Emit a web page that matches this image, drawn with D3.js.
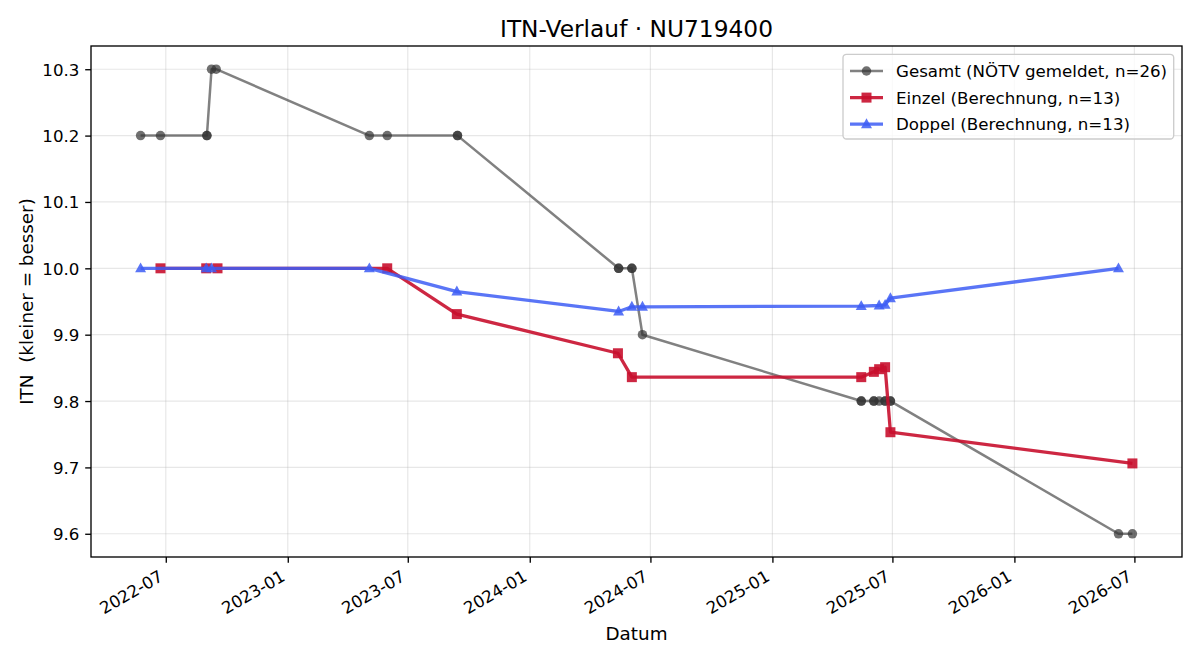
<!DOCTYPE html>
<html><head><meta charset="utf-8">
<script src="https://cdn.jsdelivr.net/npm/d3@7"></script>
<style>
body{margin:0;background:#fff}
text{font-family:"DejaVu Sans",sans-serif;fill:#000}
</style>
</head><body>
<svg id="chart" width="1200" height="660"></svg>
<script>
// ---- data ----
const titleText = "ITN-Verlauf · NU719400";
const xLabelText = "Datum";
const yLabelText = "ITN  (kleiner = besser)";

const gesamtDates = ["2022-05-24","2022-06-23","2022-09-01","2022-09-01","2022-09-08","2022-09-15",
  "2023-05-04","2023-05-31","2023-09-14","2023-09-14","2024-05-14","2024-05-14","2024-06-03","2024-06-03",
  "2024-06-19","2025-05-15","2025-05-15","2025-06-03","2025-06-03","2025-06-11","2025-06-20","2025-06-20",
  "2025-06-28","2025-06-28","2026-06-07","2026-06-28"];
const gesamtValues = [10.2,10.2,10.2,10.2,10.3,10.3,
  10.2,10.2,10.2,10.2,10.0,10.0,10.0,10.0,
  9.9,9.8,9.8,9.8,9.8,9.8,9.8,9.8,
  9.8,9.8,9.6,9.6];

const einzelDates = ["2022-06-23","2022-08-31","2022-09-17","2023-05-31","2023-09-13","2024-05-13",
  "2024-06-03","2025-05-15","2025-06-03","2025-06-11","2025-06-20","2025-06-28","2026-06-28"];
const einzelValues = [10.0,10.0,10.0,10.0,9.931,9.872,9.836,9.836,9.844,9.848,9.851,9.753,9.706];

const doppelDates = ["2022-05-24","2022-08-31","2022-09-08","2023-05-04","2023-09-13","2024-05-14",
  "2024-06-03","2024-06-19","2025-05-15","2025-06-11","2025-06-20","2025-06-28","2026-06-07"];
const doppelValues = [10.0,10.0,10.0,10.0,9.965,9.935,9.942,9.942,9.943,9.944,9.945,9.955,10.0];

const seriesNames = ["Gesamt (NÖTV gemeldet, n=26)","Einzel (Berechnung, n=13)","Doppel (Berechnung, n=13)"];
const xTickLabels = ["2022-07","2023-01","2023-07","2024-01","2024-07","2025-01","2025-07","2026-01","2026-07"];
const yTickValues = [9.6,9.7,9.8,9.9,10.0,10.1,10.2,10.3];

// ---- styles ----
const styles = [
  {color:"#333333", opacity:0.7, lineOpacity:0.62, lw:2.5, marker:"circle", size:9.5},
  {color:"#c8102e", opacity:0.9, lineOpacity:0.9, lw:3.3, marker:"square", size:10},
  {color:"#3d5df5", opacity:0.85, lineOpacity:0.85, lw:3.3, marker:"triangle", size:11}
];

const parse = d3.utcParse("%Y-%m-%d");
const series = [
  {name:seriesNames[0], pts:gesamtDates.map((d,i)=>({x:parse(d), y:gesamtValues[i]}))},
  {name:seriesNames[1], pts:einzelDates.map((d,i)=>({x:parse(d), y:einzelValues[i]}))},
  {name:seriesNames[2], pts:doppelDates.map((d,i)=>({x:parse(d), y:doppelValues[i]}))}
];

const L=91, R=1182, T=46, B=557;
const svg = d3.select("#chart");

const allPts = series.flatMap(s=>s.pts);
const xExt = d3.extent(allPts, d=>d.x);
const xPad = (xExt[1]-xExt[0])*0.05;
const x = d3.scaleUtc().domain([new Date(+xExt[0]-xPad), new Date(+xExt[1]+xPad)]).range([L,R]);
const yExt = d3.extent(allPts, d=>d.y);
const yPad = (yExt[1]-yExt[0])*0.05;
const y = d3.scaleLinear().domain([yExt[0]-yPad, yExt[1]+yPad]).range([B,T]);

const xTicks = xTickLabels.map(s=>d3.utcParse("%Y-%m")(s));

// grid
const grid = svg.append("g");
grid.selectAll("line.vx").data(xTicks).join("line")
  .attr("x1",d=>x(d)).attr("x2",d=>x(d)).attr("y1",T).attr("y2",B)
  .attr("stroke","#b0b0b0").attr("stroke-opacity",0.3).attr("stroke-width",1.2);
grid.selectAll("line.hy").data(yTickValues).join("line")
  .attr("x1",L).attr("x2",R).attr("y1",d=>y(d)).attr("y2",d=>y(d))
  .attr("stroke","#b0b0b0").attr("stroke-opacity",0.3).attr("stroke-width",1.2);

// axes
const fs = 16.67;
const xAxis = d3.axisBottom(x).tickValues(xTicks).tickFormat(d3.utcFormat("%Y-%m")).tickSize(5.8).tickPadding(5.8);
const gx = svg.append("g").attr("transform",`translate(0,${B})`).call(xAxis);
gx.select(".domain").remove();
gx.selectAll(".tick line").attr("stroke","#000").attr("stroke-width",1.33);
gx.selectAll(".tick text")
  .attr("font-size",fs).attr("font-family","DejaVu Sans")
  .attr("text-anchor","end").attr("dy",null)
  .each(function(){
    const t=d3.select(this);
    t.attr("x",-2).attr("y",22.8).attr("transform","rotate(-30,-2,22.8)");
  });

const yAxis = d3.axisLeft(y).tickValues(yTickValues).tickFormat(d3.format(".1f")).tickSize(5.8).tickPadding(5.8);
const gy = svg.append("g").attr("transform",`translate(${L},0)`).call(yAxis);
gy.select(".domain").remove();
gy.selectAll(".tick line").attr("stroke","#000").attr("stroke-width",1.33);
gy.selectAll(".tick text").attr("font-size",fs).attr("font-family","DejaVu Sans").attr("dy","0.36em");

// frame
svg.append("rect").attr("x",L).attr("y",T).attr("width",R-L).attr("height",B-T)
  .attr("fill","none").attr("stroke","#000").attr("stroke-width",1.33);

// series
const line = d3.line().x(d=>x(d.x)).y(d=>y(d.y));
function drawMarker(sel, st, cx, cy){
  const s = st.size;
  if(st.marker==="circle"){
    sel.append("circle").attr("cx",cx).attr("cy",cy).attr("r",s/2)
      .attr("fill",st.color).attr("fill-opacity",st.opacity);
  } else if(st.marker==="square"){
    sel.append("rect").attr("x",cx-s/2).attr("y",cy-s/2).attr("width",s).attr("height",s)
      .attr("fill",st.color).attr("fill-opacity",st.opacity);
  } else {
    const h=s*0.9, w=s;
    sel.append("path").attr("d",`M${cx},${cy-h*0.6}L${cx+w/2},${cy+h*0.4}L${cx-w/2},${cy+h*0.4}Z`)
      .attr("fill",st.color).attr("fill-opacity",st.opacity);
  }
}
series.forEach((s,i)=>{
  const st = styles[i];
  const g = svg.append("g");
  g.append("path").datum(s.pts).attr("d",line).attr("fill","none")
    .attr("stroke",st.color).attr("stroke-opacity",st.lineOpacity).attr("stroke-width",st.lw)
    .attr("stroke-linejoin","round").attr("stroke-linecap","butt");
  s.pts.forEach(p=>drawMarker(g, st, x(p.x), y(p.y)));
});

// title & labels
svg.append("text").attr("x",(L+R)/2).attr("y",36.5).attr("text-anchor","middle")
  .attr("font-size",23.3).text(titleText);
svg.append("text").attr("x",(L+R)/2).attr("y",639.5).attr("text-anchor","middle")
  .attr("font-size",18.33).text(xLabelText);
svg.append("text").attr("transform",`translate(32.5,${(T+B)/2}) rotate(-90)`).attr("text-anchor","middle")
  .attr("font-size",18.33).style("white-space","pre").text(yLabelText);

// legend
const lg = svg.append("g");
lg.append("rect").attr("x",843).attr("y",54.3).attr("width",1173.7-843).attr("height",139-54.3)
  .attr("rx",3.5).attr("fill","#fff").attr("fill-opacity",0.8)
  .attr("stroke","#cccccc").attr("stroke-width",1.33);
series.forEach((s,i)=>{
  const st = styles[i];
  const cy = 71 + i*26.6;
  const g = lg.append("g");
  g.append("line").attr("x1",850).attr("x2",883).attr("y1",cy).attr("y2",cy)
    .attr("stroke",st.color).attr("stroke-opacity",st.lineOpacity).attr("stroke-width",st.lw);
  drawMarker(g, st, 866.5, cy);
  g.append("text").attr("x",896).attr("y",cy).attr("dy","0.36em").attr("font-size",fs).text(s.name);
});
</script>
</body></html>
